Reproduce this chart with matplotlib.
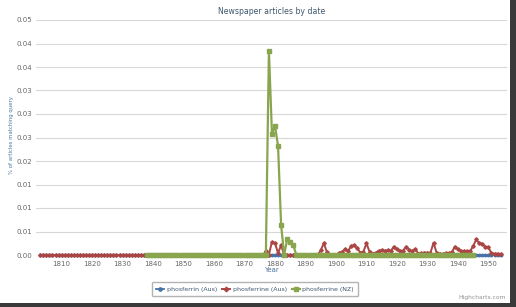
import numpy as np
import matplotlib
matplotlib.use("Agg")
import matplotlib.pyplot as plt
from matplotlib.patches import Rectangle

# years covered by each series
aus_years = np.arange(1803, 1955)
nz_years = np.arange(1838, 1946)

# phosferrin (Aus): flat at zero over the whole range
phosferrin_aus = [0.0] * len(aus_years)

phosferrine_aus_early = [0.0] * 74
phosferrine_aus_late = [
    0.0008, 0.0001, 0.0028, 0.0025, 0.0004, 0.0021, 0.0, 0.0, 0.0, 0.0,   # 1877-1886
    0.0, 0.0, 0.0, 0.0, 0.0, 0.0, 0.0, 0.0, 0.0010, 0.0025,            # 1887-1896
    0.0007, 0.0, 0.0, 0.0, 0.0004, 0.0007, 0.0012, 0.0009, 0.0019, 0.0021,  # 1897-1906
    0.0014, 0.0005, 0.0007, 0.0025, 0.0007, 0.0003, 0.0005, 0.0009, 0.0010, 0.0009,  # 1907-1916
    0.0010, 0.0009, 0.0018, 0.0012, 0.0009, 0.0009, 0.0018, 0.0011, 0.0008, 0.0013,  # 1917-1926
    0.0003, 0.0004, 0.0005, 0.0005, 0.0005, 0.0026, 0.0005, 0.0003, 0.0002, 0.0004,  # 1927-1936
    0.0004, 0.0006, 0.0018, 0.0012, 0.0008, 0.0008, 0.0008, 0.0008, 0.0019, 0.0033,  # 1937-1946
    0.0025, 0.0024, 0.0018, 0.0016, 0.0004, 0.0003, 0.0003, 0.0002,  # 1947-1954
]
phosferrine_aus = phosferrine_aus_early + phosferrine_aus_late

# phosferrine (NZ): zero until 1877, peak in 1878
phosferrine_nz_early = [0.0] * 40
phosferrine_nz_peak = [0.0434, 0.0257, 0.0275, 0.0232, 0.0064, 0.0, 0.0033, 0.0027, 0.0021]
phosferrine_nz_tail = [0.0] * 59
phosferrine_nz = phosferrine_nz_early + phosferrine_nz_peak + phosferrine_nz_tail

y_ticks = [0, 0.005, 0.01, 0.015, 0.02, 0.025, 0.03, 0.035, 0.04, 0.045, 0.05]
y_ticklabels = ["0.00", "0.01", "0.01", "0.01", "0.02", "0.03", "0.03", "0.03", "0.04", "0.04", "0.05"]
x_ticks = [1810, 1820, 1830, 1840, 1850, 1860, 1870, 1880, 1890, 1900, 1910, 1920, 1930, 1940, 1950]

W, H = 516, 307
fig = plt.figure(figsize=(W / 100, H / 100), dpi=100)
fig.patch.set_facecolor("white")
ax = fig.add_axes([36 / W, 1 - 255 / H, 471 / W, 235 / H])

ax.plot(aus_years, phosferrin_aus, color="#4572A7", lw=1.3, marker="o", markersize=1.8,
        label="phosferrin (Aus)", clip_on=False, zorder=3)
ax.plot(aus_years, phosferrine_aus, color="#AA4643", lw=1.4, marker="D", markersize=1.8,
        label="phosferrine (Aus)", clip_on=False, zorder=4)
ax.plot(nz_years, phosferrine_nz, color="#89A54E", lw=1.6, marker="s", markersize=2.4,
        label="phosferrine (NZ)", clip_on=False, zorder=5)

ax.set_xlim(1801.6, 1956.1)
ax.set_ylim(0, 0.05)
ax.set_yticks(y_ticks)
ax.set_yticklabels(y_ticklabels)
ax.set_xticks(x_ticks)
ax.tick_params(axis="both", length=0, labelsize=5.0, labelcolor="#666666")
ax.tick_params(axis="x", pad=4)
ax.tick_params(axis="y", pad=3)
ax.grid(axis="y", color="#D8D8D8", lw=0.8)
ax.set_axisbelow(True)
for s in ax.spines.values():
    s.set_visible(False)

fig.text(271.5 / W, 1 - 12 / H, "Newspaper articles by date", ha="center", va="center",
         fontsize=5.6, color="#3E576F")
fig.text(12 / W, 1 - 135 / H, "% of articles matching query", rotation=90, ha="center",
         va="center", fontsize=3.9, color="#4D759E")
fig.text(271.5 / W, 1 - 270 / H, "Year", ha="center", va="center", fontsize=5.0,
         color="#4D759E")
fig.text(506 / W, 1 - 298 / H, "Highcharts.com", ha="right", va="center", fontsize=4.3,
         color="#909090")

leg = fig.legend(loc="center", bbox_to_anchor=(255 / W, 1 - 289 / H), ncol=3,
                 fontsize=4.5, frameon=True, fancybox=True, edgecolor="#A0A0A0",
                 handlelength=1.3, columnspacing=0.8, handletextpad=0.4,
                 borderpad=0.7, markerscale=1.3)
for t in leg.get_texts():
    t.set_color("#3E576F")

# screenshot shadow on right and bottom edges
fig.patches.append(Rectangle((510 / W, 0), 6 / W, 1, transform=fig.transFigure,
                             facecolor="#3A3A3A", edgecolor="none"))
fig.patches.append(Rectangle((0, 0), 1, 4 / H, transform=fig.transFigure,
                             facecolor="#3A3A3A", edgecolor="none"))

fig.savefig("out.png", dpi=100)
